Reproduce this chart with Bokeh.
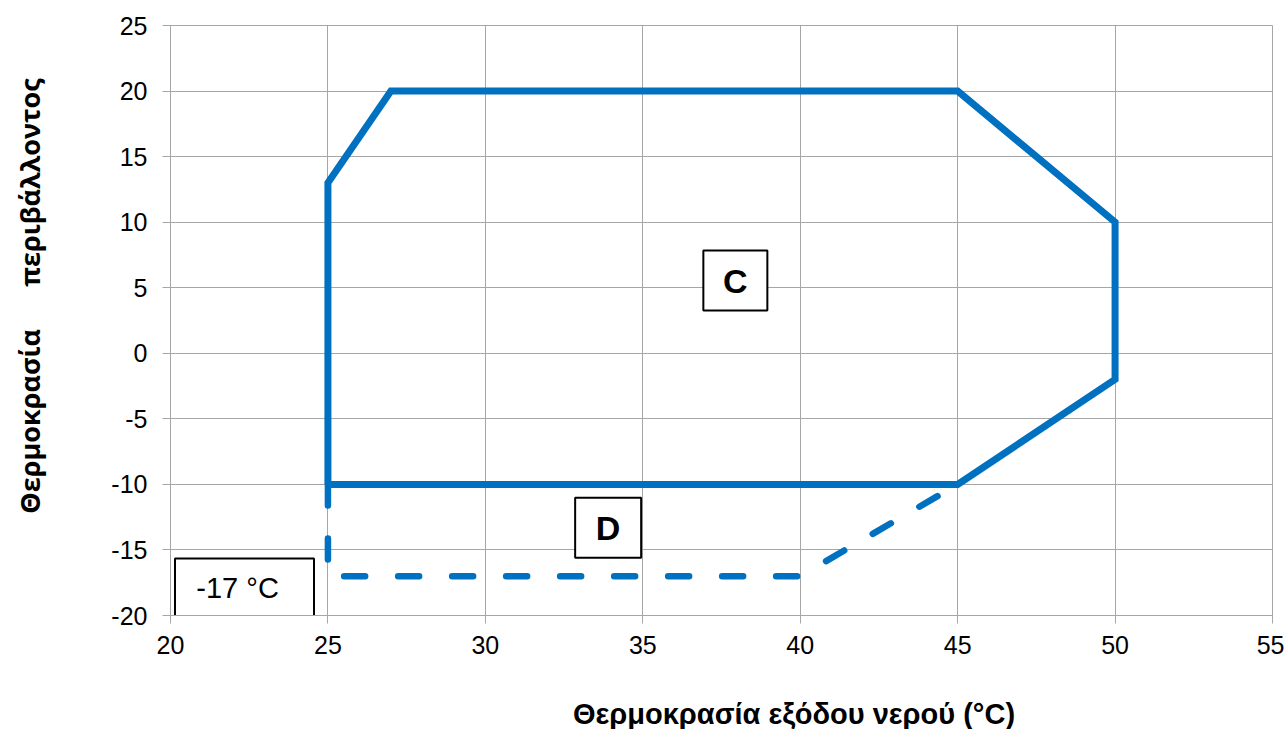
from bokeh.plotting import figure
from bokeh.models import FixedTicker, Range1d
from bokeh.core.properties import value
from bokeh.embed import file_html
from bokeh.resources import INLINE

# Operating envelope (solid, zone C)
c_x = [25, 25, 27, 45, 50, 50, 45, 25]
c_y = [-10, 13, 20, 20, 10, -2, -10, -10]
# Extended envelope (dashed, zone D)
d_x = [25, 25, 40, 45]
d_y = [-10, -17, -17, -10]

x_ticks = [20, 25, 30, 35, 40, 45, 50, 55]
y_ticks = [-20, -15, -10, -5, 0, 5, 10, 15, 20, 25]

box_text = ["C", "D", "-17 °C"]
box_x = [37.94, 33.9, 22.35]
box_y = [5.55, -13.3, -17.9]

x_title = "Θερμοκρασία εξόδου νερού (°C)"
y_title = "Θερμοκρασία" + "\u00a0" * 6 + "περιβάλλοντος"

BLUE = "#0070C0"
GRID = "#A6A6A6"

p = figure(frame_width=1102, frame_height=590, output_backend="svg", toolbar_location=None,
           x_range=Range1d(20, 55), y_range=Range1d(-20, 25),
           min_border_left=170, min_border_top=25, min_border_bottom=108, min_border_right=12)
p.outline_line_color = GRID
p.background_fill_color = "white"

for ax in (p.xaxis[0], p.yaxis[0]):
    ax.axis_line_color = GRID
    ax.major_tick_line_color = GRID
    ax.major_tick_out = 8
    ax.major_tick_in = 0
    ax.minor_tick_line_color = None
    ax.major_label_text_font = "Liberation Sans"
    ax.major_label_text_font_size = "25px"
    ax.major_label_text_color = "#000000"

p.xaxis[0].ticker = FixedTicker(ticks=x_ticks)
p.yaxis[0].ticker = FixedTicker(ticks=y_ticks)
p.yaxis[0].major_label_overrides = {v: str(v) for v in y_ticks if v < 0}
p.xaxis[0].major_label_standoff = 12
p.yaxis[0].major_label_standoff = 15

p.yaxis[0].axis_label = "\u00a0" * 7 + y_title
p.yaxis[0].axis_label_text_font = "Open Sans"
p.yaxis[0].axis_label_text_font_style = "bold"
p.yaxis[0].axis_label_text_font_size = "27px"
p.yaxis[0].axis_label_text_color = "#000000"
p.yaxis[0].axis_label_standoff = 60

p.xaxis[0].axis_label = "\u00a0" * 18 + x_title
p.xaxis[0].axis_label_text_font = "Liberation Sans"
p.xaxis[0].axis_label_text_font_style = "bold"
p.xaxis[0].axis_label_text_font_size = "29px"
p.xaxis[0].axis_label_text_color = "#000000"
p.xaxis[0].axis_label_standoff = 41

p.xgrid.ticker = FixedTicker(ticks=x_ticks)
p.ygrid.ticker = FixedTicker(ticks=y_ticks)
p.xgrid.grid_line_color = GRID
p.ygrid.grid_line_color = GRID

p.line(d_x, d_y, line_color=BLUE, line_width=6.5, line_dash="21 33", line_cap="round")
p.line(c_x, c_y, line_color=BLUE, line_width=7, line_join="miter")

box_w = [64, 66, 139]
box_h = [60, 60, 59]
p.rect(box_x, box_y, width=box_w, height=box_h, width_units="screen", height_units="screen",
       fill_color="white", line_color="black", line_width=2)

p.text([box_x[0], box_x[1]], [box_y[0], box_y[1]], text=[box_text[0], box_text[1]],
       text_font=value("Liberation Sans"), text_font_style="bold", text_font_size="34px",
       text_align="center", text_baseline="middle", text_color="black")
p.text([box_x[2] - 0.22], [box_y[2]], text=[box_text[2]],
       text_font=value("Liberation Sans"), text_font_size="29px",
       text_align="center", text_baseline="middle", text_color="black")

open("out.html", "w").write(file_html(p, INLINE))
